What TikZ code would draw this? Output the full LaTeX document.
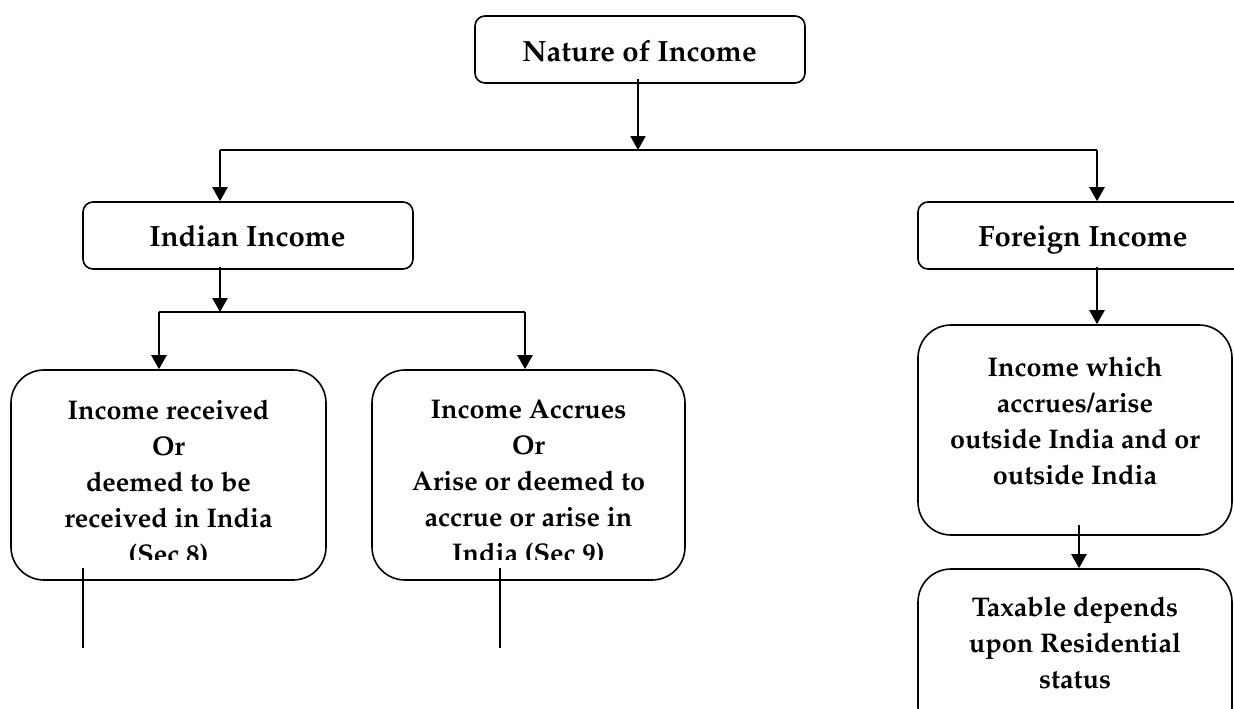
\documentclass[tikz,border=0pt]{standalone}
\usepackage[T1]{fontenc}
\usepackage{mathpazo}
\usetikzlibrary{arrows.meta}
\begin{document}
\begin{tikzpicture}[x=1pt,y=-1pt,
  box/.style={draw,line width=1.6pt,rounded corners=10pt,inner sep=0pt},
  bigbox/.style={draw,line width=1.6pt,rounded corners=33pt,inner sep=0pt},
  txt/.style={font=\fontsize{27}{36}\selectfont\bfseries,align=center,inner sep=0pt},
  lbl/.style={font=\fontsize{29.3}{36}\selectfont\bfseries,inner sep=0pt,anchor=base},
  arr/.style={line width=2.4pt,-{Triangle[width=15pt,length=14pt]}},
  conn/.style={line width=2pt},
  thinline/.style={line width=1.3pt}]
\useasboundingbox (0,0) rectangle (1234,709);
\clip (0,0) rectangle (1234,709);

% top level
\node[box,minimum width=330pt,minimum height=67pt] (nature) at (640,49.5) {};
\node[lbl] (naturet) at (639.5,61.7) {Nature of Income};
\node[box,minimum width=330pt,minimum height=67pt] (indian) at (248,235.5) {};
\node[lbl] (indiant) at (247.5,246.7) {Indian Income};
\node[box,minimum width=332pt,minimum height=67pt] (foreign) at (1084,235.5) {};
\node[lbl] (foreignt) at (1083,246.7) {Foreign Income};

% second level boxes
\node[bigbox,minimum width=315pt,minimum height=210pt] (recv) at (168.5,475) {};
\node[bigbox,minimum width=313pt,minimum height=210pt] (accr) at (528.5,475) {};
\node[bigbox,minimum width=314pt,minimum height=210pt] (outs) at (1075,430) {};
\node[bigbox,minimum width=314pt,minimum height=171pt] (taxa) at (1075,654.5) {};

\begin{scope}
\clip (0,0) rectangle (1234,559);
\node[txt,anchor=north] (recvt) at (168.5,399.5) {Income received\\Or\\deemed to be\\received in India\\(Sec 8)};
\node[txt,anchor=north] (accrt) at (528.5,399.5) {Income Accrues\\Or\\Arise or deemed to\\accrue or arise in\\India (Sec 9)};
\end{scope}
\node[txt,anchor=north] (outst) at (1075,356.5) {Income which\\accrues/arise\\outside India and or\\outside India};
\node[txt,anchor=north] (taxat) at (1075,596.5) {Taxable depends\\upon Residential\\status};

% connectors
\coordinate (j0) at (638,150);
\coordinate (jL) at (220,150);
\coordinate (jR) at (1097,150);
\draw[arr] ([yshift=5pt]nature.south -| j0) -- (j0);
\draw[conn] (jL) -- (jR);
\draw[arr] (jL) -- (jL |- indian.north);
\draw[arr] (jR) -- (jR |- foreign.north);

\coordinate (k0) at (220,312);
\coordinate (kL) at (159,312);
\coordinate (kR) at (525,312);
\draw[arr] ([yshift=3pt]indian.south -| k0) -- (k0);
\draw[conn] (kL) -- (kR);
\draw[arr] (kL) -- (kL |- recv.north);
\draw[arr] (kR) -- (kR |- accr.north);

\coordinate (f0) at (1097,267);
\draw[arr] (f0) -- (f0 |- outs.north);
\coordinate (g0) at (1079,525);
\draw[arr] (g0) -- (g0 |- taxa.north);

\coordinate (l1a) at (83,568);
\coordinate (l1b) at (83,648);
\coordinate (l2a) at (500,568);
\coordinate (l2b) at (500,648);
\draw[thinline] (l1a) -- (l1b);
\draw[thinline] (l2a) -- (l2b);
\end{tikzpicture}
\end{document}
